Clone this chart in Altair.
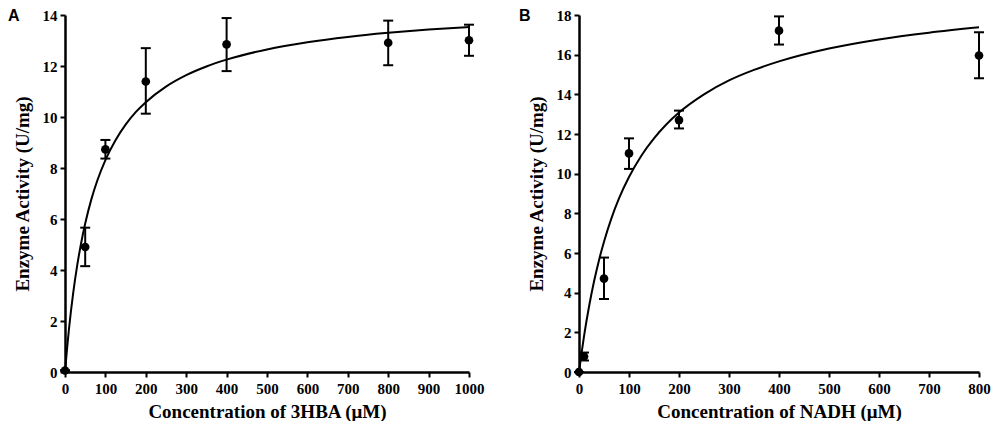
import altair as alt
import pandas as pd

# ---------------- Panel A : 3HBA ----------------
conc_a = [0, 50, 100, 200, 400, 800, 1000]
act_a = [0.06, 4.90, 8.73, 11.39, 12.85, 12.91, 13.01]
lo_a = [0.06, 4.15, 8.37, 10.13, 11.80, 12.03, 12.40]
hi_a = [0.06, 5.66, 9.10, 12.70, 13.88, 13.78, 13.62]

# fitted curve
curve_a_x = [0, 5, 10, 20, 30, 40, 50, 65, 80, 100, 125, 150, 175, 200, 250,
             300, 350, 400, 500, 600, 700, 800, 900, 1000]
curve_a_y = [0.0, 0.91, 1.71, 3.06, 4.16, 5.06, 5.82, 6.76, 7.51, 8.31, 9.09,
             9.70, 10.19, 10.58, 11.19, 11.64, 11.98, 12.25, 12.65, 12.93,
             13.14, 13.30, 13.43, 13.53]
xticks_a = [0, 100, 200, 300, 400, 500, 600, 700, 800, 900, 1000]
yticks_a = [0, 2, 4, 6, 8, 10, 12, 14]

# ---------------- Panel B : NADH ----------------
conc_b = [0, 10, 50, 100, 200, 400, 800]
act_b = [0.0, 0.78, 4.71, 11.02, 12.70, 17.21, 15.96]
lo_b = [0.0, 0.58, 3.68, 10.24, 12.28, 16.51, 14.81]
hi_b = [0.0, 0.98, 5.77, 11.78, 13.18, 17.93, 17.13]

curve_b_x = [0, 5, 10, 20, 30, 40, 50, 65, 80, 100, 125, 150, 175, 200, 250,
             300, 350, 400, 500, 600, 700, 800]
curve_b_y = [0.0, 0.94, 1.80, 3.29, 4.56, 5.64, 6.57, 7.76, 8.75, 9.83, 10.92,
             11.78, 12.49, 13.08, 14.00, 14.70, 15.23, 15.66, 16.31, 16.77,
             17.11, 17.38]
xticks_b = [0, 100, 200, 300, 400, 500, 600, 700, 800]
yticks_b = [0, 2, 4, 6, 8, 10, 12, 14, 16, 18]

SERIF = "Liberation Serif"
SANS = "Liberation Sans"
YTITLE = "Enzyme Activity (U/mg)"


def panel(letter, conc, act, lo, hi, cx, cy, xmax, ymax, xticks, yticks,
          xtitle, w, h, letter_dx):
    pts = pd.DataFrame({"x": conc, "y": act, "lo": lo, "hi": hi})
    cur = pd.DataFrame({"x": cx, "y": cy})
    xs = alt.Scale(domain=[0, xmax], nice=False, zero=True)
    ys = alt.Scale(domain=[0, ymax], nice=False, zero=True)
    xax = alt.Axis(values=xticks, title=xtitle, format="d", titlePadding=6,
                   labelPadding=4, labelOverlap=False, labelFlush=False)
    yax = alt.Axis(values=yticks, title=YTITLE, format="d",
                   titlePadding=10, labelPadding=3, labelOverlap=False,
                   labelFlush=False)

    line = alt.Chart(cur).mark_line(
        color="black", strokeWidth=2, interpolate="monotone", clip=False
    ).encode(
        x=alt.X("x:Q", scale=xs, axis=xax, title=xtitle),
        y=alt.Y("y:Q", scale=ys, axis=yax, title=YTITLE),
    )
    err = alt.Chart(pts).mark_errorbar(
        color="black", thickness=2, opacity=1,
        rule={"color": "black", "strokeWidth": 2, "opacity": 1},
        ticks={"size": 10, "thickness": 2, "color": "black", "opacity": 1},
    ).encode(
        x=alt.X("x:Q", scale=xs, axis=xax, title=xtitle),
        y=alt.Y("lo:Q", scale=ys, axis=yax, title=YTITLE),
        y2="hi:Q",
    )
    dots = alt.Chart(pts).mark_circle(
        size=75, color="black", opacity=1, clip=False
    ).encode(
        x=alt.X("x:Q", scale=xs, axis=xax, title=xtitle),
        y=alt.Y("y:Q", scale=ys, axis=yax, title=YTITLE),
    )
    lab = alt.Chart(pd.DataFrame({"t": [letter]})).mark_text(
        font=SANS, fontWeight="bold", fontSize=16, align="left",
        baseline="top", color="black"
    ).encode(
        text="t:N", x=alt.value(letter_dx), y=alt.value(-7)
    )
    return alt.layer(line, err, dots, lab).properties(width=w, height=h)


pa = panel("A", conc_a, act_a, lo_a, hi_a, curve_a_x, curve_a_y, 1000, 14,
           xticks_a, yticks_a, "Concentration of 3HBA (\u03bcM)", 404, 357, -57)
pb = panel("B", conc_b, act_b, lo_b, hi_b, curve_b_x, curve_b_y, 800, 18,
           xticks_b, yticks_b, "Concentration of NADH (\u03bcM)", 400, 357, -60)

chart = alt.hconcat(pa, pb, spacing=35).properties(
    padding={"left": 0, "top": 0, "right": 0, "bottom": 0},
    background="white",
).configure_view(stroke=None).configure_axis(
    grid=False,
    domainColor="black", domainWidth=2.5,
    tickColor="black", tickWidth=2, tickSize=5,
    labelFont=SERIF, labelFontWeight="bold", labelFontSize=15,
    labelColor="black",
    titleFont=SERIF, titleFontWeight="bold", titleFontSize=19,
    titleColor="black",
)

chart.save("out.html", embed_options={"renderer": "svg", "actions": False})
